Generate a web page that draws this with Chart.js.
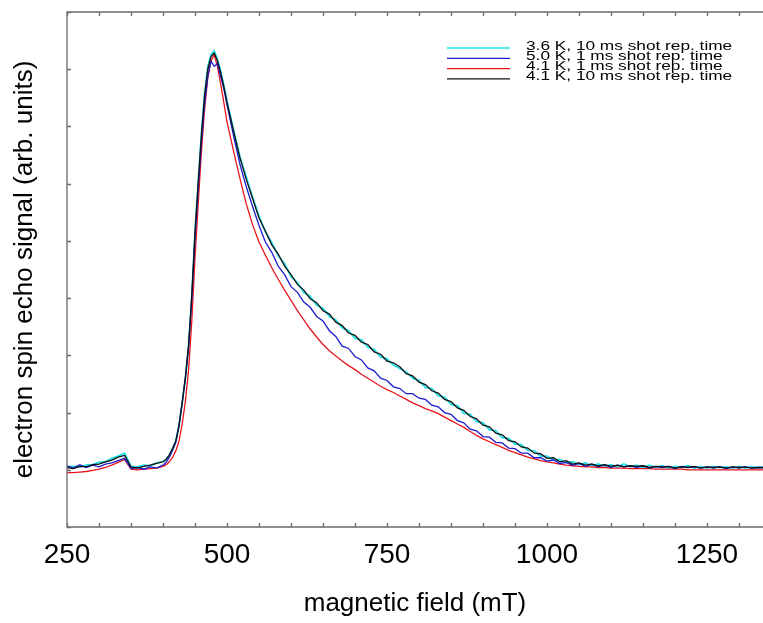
<!DOCTYPE html>
<html>
<head>
<meta charset="utf-8">
<script src="https://cdn.jsdelivr.net/npm/chart.js@4.4.1/dist/chart.umd.min.js"></script>
<style>
  html, body { margin: 0; padding: 0; background: #fff; }
  #plot { display: block; }
</style>
</head>
<body>
<canvas id="plot" width="763" height="623"></canvas>
<script>
// magnetic field (mT), shared by all four traces
const fields = [
    250, 260, 270, 280, 290, 300, 310, 320, 330, 340,
    350, 360, 370, 380, 390, 400, 405, 410, 415, 420,
    425, 430, 435, 440, 445, 450, 455, 460, 465, 470,
    475, 480, 485, 490, 495, 500, 510, 520, 530, 540,
    550, 560, 570, 580, 590, 600, 610, 620, 630, 640,
    650, 660, 670, 680, 690, 700, 710, 720, 730, 740,
    750, 760, 770, 780, 790, 800, 810, 820, 830, 840,
    850, 860, 870, 880, 890, 900, 910, 920, 930, 940,
    950, 960, 970, 980, 990, 1000, 1010, 1020, 1030, 1040,
    1050, 1060, 1070, 1080, 1090, 1100, 1110, 1120, 1130, 1140,
    1150, 1160, 1170, 1180, 1190, 1200, 1210, 1220, 1230, 1240,
    1250, 1260, 1270, 1280, 1290, 1300, 1310, 1320, 1330, 1340
];

// echo signal, arb. units
const cyan36K10ms = [
    0.05, 0.06, 0.05, 0.08, 0.09, 0.13, 0.14, 0.20, 0.24, 0.29,
    0.06, 0.05, 0.08, 0.07, 0.12, 0.14, 0.19, 0.25, 0.38, 0.50,
    0.77, 1.17, 1.60, 2.16, 3.03, 4.13, 5.02, 5.86, 6.57, 7.04,
    7.26, 7.32, 7.18, 6.97, 6.72, 6.44, 5.95, 5.48, 5.12, 4.76,
    4.44, 4.16, 3.97, 3.74, 3.60, 3.38, 3.27, 3.10, 3.03, 2.88,
    2.82, 2.68, 2.62, 2.48, 2.43, 2.30, 2.27, 2.14, 2.10, 1.97,
    1.94, 1.83, 1.77, 1.71, 1.60, 1.56, 1.44, 1.42, 1.29, 1.27,
    1.14, 1.12, 0.99, 0.97, 0.84, 0.82, 0.70, 0.68, 0.56, 0.55,
    0.45, 0.44, 0.34, 0.33, 0.24, 0.24, 0.17, 0.18, 0.12, 0.14,
    0.09, 0.12, 0.07, 0.10, 0.06, 0.09, 0.05, 0.10, 0.05, 0.08,
    0.04, 0.08, 0.04, 0.07, 0.03, 0.06, 0.04, 0.07, 0.03, 0.06,
    0.03, 0.06, 0.04, 0.05, 0.03, 0.06, 0.03, 0.05, 0.04, 0.05
];
const blue50K1ms = [
    0.07, 0.03, 0.09, 0.04, 0.08, 0.05, 0.10, 0.12, 0.16, 0.20,
    0.02, 0.04, 0.01, 0.05, 0.03, 0.08, 0.13, 0.22, 0.34, 0.48,
    0.76, 1.16, 1.60, 2.15, 3.00, 4.05, 4.92, 5.72, 6.40, 6.88,
    7.14, 7.05, 7.10, 6.88, 6.66, 6.38, 5.85, 5.35, 4.95, 4.60,
    4.27, 3.98, 3.80, 3.56, 3.41, 3.20, 3.10, 2.93, 2.84, 2.68,
    2.60, 2.43, 2.33, 2.16, 2.12, 1.98, 1.92, 1.78, 1.73, 1.60,
    1.56, 1.45, 1.42, 1.33, 1.33, 1.25, 1.23, 1.13, 1.10, 1.00,
    0.97, 0.86, 0.82, 0.71, 0.68, 0.58, 0.57, 0.48, 0.47, 0.38,
    0.37, 0.29, 0.29, 0.21, 0.21, 0.15, 0.17, 0.11, 0.13, 0.08,
    0.11, 0.06, 0.10, 0.05, 0.09, 0.04, 0.08, 0.05, 0.07, 0.04,
    0.07, 0.03, 0.06, 0.04, 0.06, 0.02, 0.06, 0.04, 0.05, 0.03,
    0.05, 0.03, 0.05, 0.02, 0.05, 0.03, 0.05, 0.03, 0.04, 0.03
];
const red41K1ms = [
    -0.05, -0.05, -0.04, -0.03, -0.01, 0.01, 0.04, 0.08, 0.13, 0.18,
    0.01, 0.00, 0.01, 0.02, 0.03, 0.06, 0.09, 0.14, 0.22, 0.33,
    0.50, 0.80, 1.20, 1.75, 2.60, 3.70, 4.65, 5.55, 6.30, 6.85,
    7.15, 7.25, 7.05, 6.75, 6.42, 6.08, 5.58, 5.10, 4.65, 4.28,
    3.98, 3.75, 3.53, 3.33, 3.14, 2.96, 2.78, 2.62, 2.46, 2.32,
    2.19, 2.08, 1.99, 1.90, 1.82, 1.75, 1.67, 1.60, 1.53, 1.46,
    1.40, 1.35, 1.29, 1.23, 1.17, 1.12, 1.07, 1.03, 0.98, 0.92,
    0.86, 0.80, 0.74, 0.67, 0.60, 0.54, 0.49, 0.44, 0.39, 0.34,
    0.30, 0.26, 0.22, 0.19, 0.16, 0.14, 0.12, 0.10, 0.08, 0.07,
    0.06, 0.05, 0.05, 0.04, 0.04, 0.03, 0.03, 0.03, 0.02, 0.02,
    0.02, 0.02, 0.01, 0.01, 0.01, 0.01, 0.01, 0.00, 0.00, 0.00,
    0.00, 0.00, 0.00, 0.00, 0.00, 0.00, 0.00, 0.00, 0.00, 0.00
];
const black41K10ms = [
    0.04, 0.02, 0.06, 0.05, 0.09, 0.10, 0.14, 0.17, 0.22, 0.25,
    0.05, 0.03, 0.06, 0.08, 0.11, 0.14, 0.18, 0.26, 0.37, 0.50,
    0.78, 1.18, 1.62, 2.18, 3.05, 4.15, 5.02, 5.85, 6.55, 7.00,
    7.22, 7.28, 7.15, 6.95, 6.70, 6.42, 5.93, 5.46, 5.08, 4.74,
    4.40, 4.17, 3.93, 3.77, 3.56, 3.41, 3.24, 3.14, 2.99, 2.92,
    2.78, 2.72, 2.58, 2.52, 2.39, 2.35, 2.23, 2.19, 2.06, 2.02,
    1.90, 1.87, 1.80, 1.68, 1.64, 1.53, 1.49, 1.38, 1.34, 1.23,
    1.19, 1.08, 1.04, 0.93, 0.89, 0.78, 0.75, 0.64, 0.61, 0.51,
    0.49, 0.40, 0.38, 0.29, 0.28, 0.20, 0.21, 0.14, 0.16, 0.10,
    0.12, 0.08, 0.10, 0.07, 0.09, 0.06, 0.08, 0.05, 0.07, 0.06,
    0.07, 0.04, 0.06, 0.05, 0.06, 0.03, 0.05, 0.04, 0.06, 0.03,
    0.05, 0.04, 0.05, 0.03, 0.05, 0.04, 0.05, 0.03, 0.04, 0.04
];

const seriesLabels = [
    "3.6 K, 10 ms shot rep. time",
    "5.0 K, 1 ms shot rep. time",
    "4.1 K, 1 ms shot rep. time",
    "4.1 K, 10 ms shot rep. time"
];
const xLabelStep = 250;

const FONT = "'Liberation Sans', Arial, sans-serif";

function toPoints(vals) {
    return fields.map((f, i) => ({ x: f, y: vals[i] }));
}

// box frame with inward tick marks, like the original plotting program
const framePlugin = {
    id: 'frame',
    afterDraw(chart) {
        const { ctx, chartArea: a, scales: { x, y } } = chart;
        ctx.save();
        ctx.strokeStyle = '#6a6a6a';
        ctx.lineWidth = 1.3;
        ctx.beginPath();
        ctx.moveTo(a.right, a.top);
        ctx.lineTo(a.left, a.top);
        ctx.lineTo(a.left, a.bottom);
        ctx.lineTo(a.right, a.bottom);
        x.ticks.forEach(t => {
            const px = Math.round(x.getPixelForValue(t.value)) + 0.5;
            ctx.moveTo(px, a.bottom);
            ctx.lineTo(px, a.bottom - 4);
            ctx.moveTo(px, a.top);
            ctx.lineTo(px, a.top + 4);
        });
        y.ticks.forEach(t => {
            const py = Math.round(y.getPixelForValue(t.value)) + 0.5;
            ctx.moveTo(a.left, py);
            ctx.lineTo(a.left + 4, py);
        });
        ctx.stroke();
        ctx.restore();
    }
};

// compact legend in the upper right corner
const legendPlugin = {
    id: 'cornerLegend',
    afterDraw(chart) {
        const ctx = chart.ctx;
        ctx.save();
        chart.data.datasets.forEach((ds, i) => {
            const rowY = 46 + i * 10.3;
            ctx.strokeStyle = ds.borderColor;
            ctx.lineWidth = 1.3;
            ctx.beginPath();
            ctx.moveTo(447, rowY + 2);
            ctx.lineTo(510, rowY + 2);
            ctx.stroke();
            ctx.save();
            ctx.translate(526, rowY);
            ctx.scale(1.36, 1);
            ctx.fillStyle = '#000';
            ctx.font = '12.7px ' + FONT;
            ctx.textBaseline = 'middle';
            ctx.fillText(ds.label, 0, 0);
            ctx.restore();
        });
        ctx.restore();
    }
};

new Chart(document.getElementById('plot'), {
    type: 'line',
    data: {
        datasets: [
            { label: seriesLabels[0], data: toPoints(cyan36K10ms), borderColor: '#22e0e8', borderWidth: 1.8, order: 3 },
            { label: seriesLabels[1], data: toPoints(blue50K1ms), borderColor: '#1c1cd0', borderWidth: 1.3, order: 1 },
            { label: seriesLabels[2], data: toPoints(red41K1ms), borderColor: '#e8141c', borderWidth: 1.3, order: 2 },
            { label: seriesLabels[3], data: toPoints(black41K10ms), borderColor: '#111111', borderWidth: 1.3, order: 0 }
        ]
    },
    options: {
        responsive: false,
        animation: false,
        layout: { padding: { top: 12, left: 0, right: 0, bottom: 0 } },
        elements: {
            point: { radius: 0 },
            line: { tension: 0, fill: false }
        },
        plugins: {
            legend: { display: false },
            tooltip: { enabled: false }
        },
        scales: {
            x: {
                type: 'linear',
                min: 250,
                max: 1337.5,
                grid: { display: false, drawTicks: false },
                border: { display: false },
                ticks: {
                    stepSize: 50,
                    autoSkip: false,
                    maxRotation: 0,
                    includeBounds: false,
                    padding: 11,
                    color: '#000',
                    font: { family: FONT, size: 28 },
                    callback: v => (v % xLabelStep === 0 ? String(v) : '')
                },
                title: {
                    display: true,
                    text: 'magnetic field (mT)',
                    color: '#000',
                    font: { family: FONT, size: 26 },
                    padding: { top: 0, bottom: 4 }
                },
                afterFit: s => { s.height = 96; }
            },
            y: {
                min: -1,
                max: 8,
                grid: { display: false, drawTicks: false },
                border: { display: false },
                ticks: { stepSize: 1, display: false },
                title: {
                    display: true,
                    text: 'electron spin echo signal (arb. units)',
                    color: '#000',
                    font: { family: FONT, size: 26 },
                    padding: { top: 9, bottom: 0 }
                },
                afterFit: s => { s.width = 67; }
            }
        }
    },
    plugins: [framePlugin, legendPlugin]
});
</script>
</body>
</html>
